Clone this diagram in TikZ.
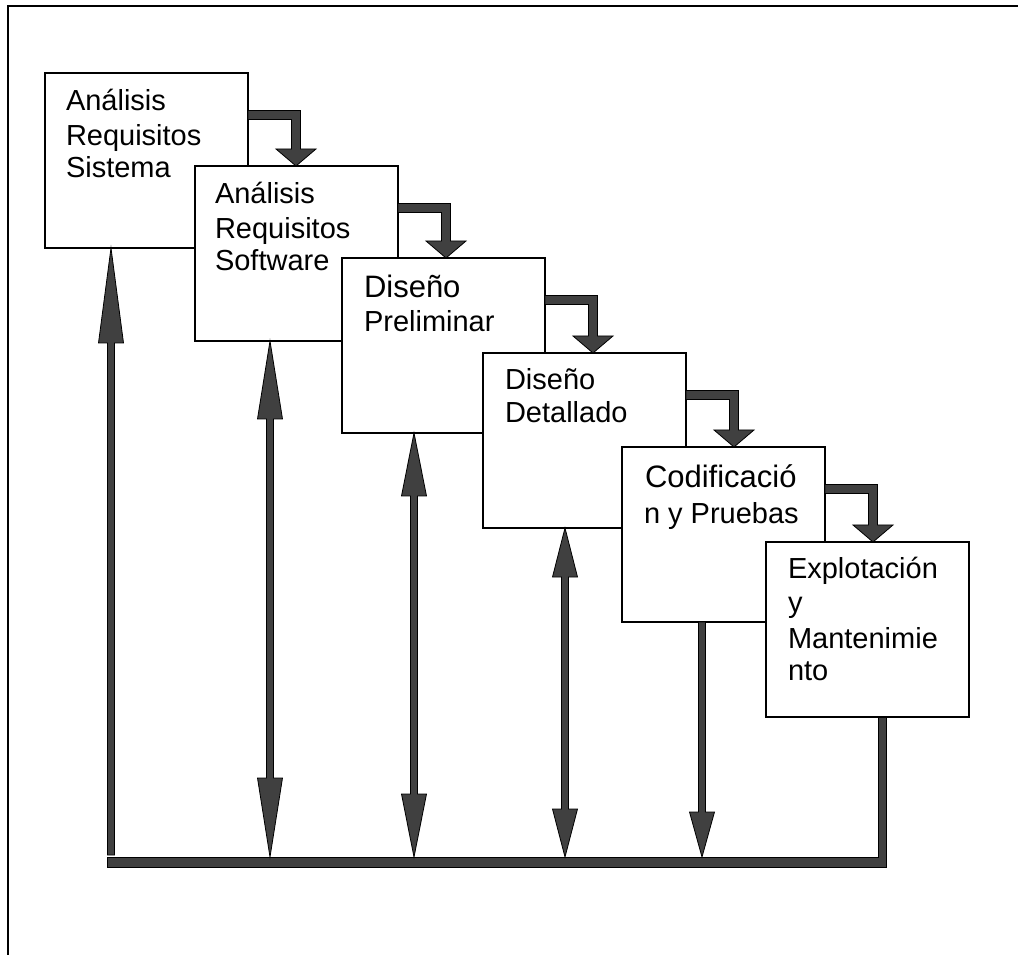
\documentclass[tikz,border=0pt]{standalone}
\usepackage{fontspec}
\setmainfont{Liberation Sans}
\usetikzlibrary{calc}
\definecolor{arrowgray}{RGB}{64,64,64}

\tikzset{
  stage/.style={rectangle, draw=black, fill=white, line width=1.1pt, anchor=north west,
    minimum width=152.25pt, minimum height=131.25pt, inner sep=0pt, outer sep=0pt},
  lbl/.style={anchor=base west, inner sep=0pt, outer sep=0pt,
    font=\fontsize{21.75pt}{25pt}\selectfont},
  lblbig/.style={lbl, font=\fontsize{23.25pt}{27pt}\selectfont},
  blk/.style={draw=black, fill=arrowgray, line width=0.6pt, line join=miter},
  frameline/.style={draw=black, line width=1.4pt},
}

% elbow connector: leaves the right side of stage #1, turns down onto the top of stage #2
\newcommand\elbow[2]{%
  \coordinate (#1-e) at ($(#1.north east)+(0,42)$);
  \coordinate (#1-c) at ($(#1-e)+(48,0)$);
  \coordinate (#1-t) at (#1-c |- #2.north);
  \draw[blk] ($(#1-e)+(0,-4.5)$) -- ($(#1-c)+(4.5,-4.5)$) -- ($(#1-t)+(4.5,-17)$)
    -- ($(#1-t)+(20,-17)$) -- (#1-t) -- ($(#1-t)+(-20,-17)$) -- ($(#1-t)+(-4.5,-17)$)
    -- ($(#1-c)+(-4.5,4.5)$) -- ($(#1-e)+(0,4.5)$) -- cycle;
}
% two-headed feedback arrow between stage #1 (at #2 from its left side) and the bus;
% #3 and #4 are the lengths of the upper and lower heads
\newcommand\feedboth[4]{%
  \coordinate (#1-ft) at ($(#1.south west)+(#2,0)$);
  \coordinate (#1-fb) at (#1-ft |- busTop);
  \draw[blk] (#1-ft) -- ($(#1-ft)+(12.5,#3)$) -- ($(#1-ft)+(3.5,#3)$)
    -- ($(#1-fb)+(3.5,-#4)$) -- ($(#1-fb)+(12.5,-#4)$) -- (#1-fb)
    -- ($(#1-fb)+(-12.5,-#4)$) -- ($(#1-fb)+(-3.5,-#4)$)
    -- ($(#1-ft)+(-3.5,#3)$) -- ($(#1-ft)+(-12.5,#3)$) -- cycle;
}
% feedback arrow from the bus up to stage #1
\newcommand\feedup[3]{%
  \coordinate (#1-ft) at ($(#1.south west)+(#2,0)$);
  \coordinate (#1-fb) at (#1-ft |- busTop);
  \draw[blk] (#1-ft) -- ($(#1-ft)+(12.5,#3)$) -- ($(#1-ft)+(3.5,#3)$)
    -- ($(#1-fb)+(3.5,-2)$) -- ($(#1-fb)+(-3.5,-2)$)
    -- ($(#1-ft)+(-3.5,#3)$) -- ($(#1-ft)+(-12.5,#3)$) -- cycle;
}
% arrow from stage #1 down to the bus
\newcommand\feeddown[3]{%
  \coordinate (#1-ft) at ($(#1.south west)+(#2,0)$);
  \coordinate (#1-fb) at (#1-ft |- busTop);
  \draw[blk] ($(#1-ft)+(-3.5,0)$) -- ($(#1-ft)+(3.5,0)$) -- ($(#1-fb)+(3.5,-#3)$)
    -- ($(#1-fb)+(12.5,-#3)$) -- (#1-fb) -- ($(#1-fb)+(-12.5,-#3)$)
    -- ($(#1-fb)+(-3.5,-#3)$) -- cycle;
}

\begin{document}
\begin{tikzpicture}[x=0.75pt, y=-0.75pt]
\useasboundingbox (0,0) rectangle (1018,955);

% page frame
\draw[frameline] (8,955) -- (8,6) -- (1018,6);

% stages of the waterfall
\node[stage] (b1) at (45,73) {};
\node[lbl] (t1a) at ($(b1.north west)+(21,38)$) {Análisis};
\node[lbl] (t1b) at ($(b1.north west)+(21,73)$) {Requisitos};
\node[lbl] (t1c) at ($(b1.north west)+(21,105)$) {Sistema};

\node[stage] (b2) at (195,166) {};
\node[lbl] (t2a) at ($(b2.north west)+(20,38)$) {Análisis};
\node[lbl] (t2b) at ($(b2.north west)+(20,73)$) {Requisitos};
\node[lbl] (t2c) at ($(b2.north west)+(20,105)$) {Software};

\node[stage] (b3) at (342,258) {};
\node[lblbig] (t3a) at ($(b3.north west)+(22,40)$) {Diseño};
\node[lbl] (t3b) at ($(b3.north west)+(22,74)$) {Preliminar};

\node[stage] (b4) at (483,353) {};
\node[lbl] (t4a) at ($(b4.north west)+(22,37)$) {Diseño};
\node[lbl] (t4b) at ($(b4.north west)+(22,70)$) {Detallado};

\node[stage] (b5) at (622,447) {};
\node[lblbig] (t5a) at ($(b5.north west)+(23,41)$) {Codificació};
\node[lbl] (t5b) at ($(b5.north west)+(22,77)$) {n y Pruebas};

\node[stage] (b6) at (766,542) {};
\node[lbl] (t6a) at ($(b6.north west)+(22,37)$) {Explotación};
\node[lbl] (t6b) at ($(b6.north west)+(22,70)$) {y};
\node[lbl] (t6c) at ($(b6.north west)+(22,106)$) {Mantenimie};
\node[lbl] (t6d) at ($(b6.north west)+(22,138)$) {nto};

% stage to stage
\elbow{b1}{b2}
\elbow{b2}{b3}
\elbow{b3}{b4}
\elbow{b4}{b5}
\elbow{b5}{b6}

% return bus along the bottom, joined to the last stage
\coordinate (busTop) at (107,857);
\coordinate (busBot) at (107,867);
\coordinate (b6o) at ($(b6.south west)+(112,0)$);
\coordinate (b6i) at ($(b6.south west)+(120,0)$);
\draw[blk] (busTop) -- (b6o |- busTop) -- (b6o) -- (b6i) -- (b6i |- busBot) -- (busBot) -- cycle;

% feedback arrows
\feedup{b1}{66}{95}
\feedboth{b2}{75}{78}{79}
\feedboth{b3}{72}{63}{63}
\feedboth{b4}{82}{49}{48}
\feeddown{b5}{80}{45}
\end{tikzpicture}
\end{document}
